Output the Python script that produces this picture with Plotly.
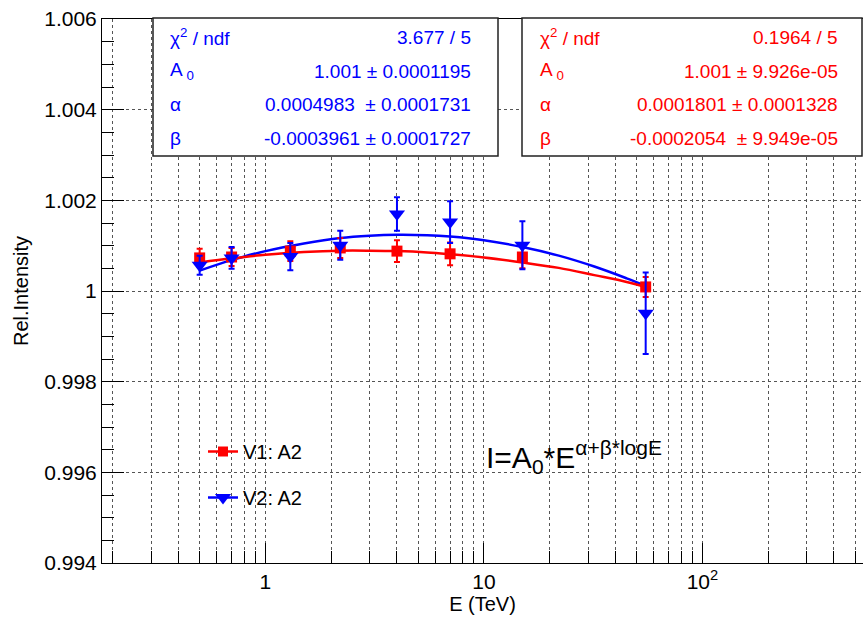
import plotly.graph_objects as go

# ---------------- data ----------------
energy = [0.5, 0.7, 1.3, 2.2, 4, 7, 15, 55]
v1_val = [1.00073, 1.00075, 1.00088, 1.00095, 1.00088, 1.00082, 1.00075, 1.00009]
v1_err = [0.00020, 0.00020, 0.00022, 0.00022, 0.00024, 0.00025, 0.00025, 0.00022]
v2_val = [1.00057, 1.00073, 1.00076, 1.00101, 1.00170, 1.00152, 1.00101, 0.99951]
v2_err = [0.00021, 0.00024, 0.00030, 0.00032, 0.00037, 0.00046, 0.00053, 0.00090]

fit_energy = [0.5, 0.7, 1, 1.5, 2.2, 3, 4, 5.5, 7, 10, 15, 22, 32, 45, 56]
v1_fit = [1.00063, 1.00072, 1.00080, 1.00086, 1.00089, 1.00089, 1.00088, 1.00085,
          1.00081, 1.00074, 1.00063, 1.00051, 1.00035, 1.00020, 1.00008]
v2_fit = [1.00045, 1.00068, 1.00088, 1.00105, 1.00117, 1.00122, 1.00124, 1.00123,
          1.00120, 1.00112, 1.00097, 1.00078, 1.00054, 1.00028, 1.00010]

series_names = ["V1: A2", "V2: A2"]

x_major = [1, 10, 100]
x_major_text = ["1", "10", "10<sup>2</sup>"]
x_minor = [0.2, 0.3, 0.4, 0.5, 0.6, 0.7, 0.8, 0.9,
           2, 3, 4, 5, 6, 7, 8, 9,
           20, 30, 40, 50, 60, 70, 80, 90,
           200, 300, 400, 500]
y_major = [0.994, 0.996, 0.998, 1.0, 1.002, 1.004, 1.006]
y_major_text = ["0.994", "0.996", "0.998", "1", "1.002", "1.004", "1.006"]

stat_labels = ["χ<sup>2</sup> / ndf", "A<sub> 0</sub>", "α", "β"]
v2_stats = ["3.677 / 5", "1.001 ± 0.0001195", "0.0004983  ± 0.0001731", "-0.0003961 ± 0.0001727"]
v1_stats = ["0.1964 / 5", "1.001 ± 9.926e-05", "0.0001801 ± 0.0001328", "-0.0002054  ± 9.949e-05"]

formula_text = "I=A<sub>0</sub>*E<sup>α+β*logE</sup>"

# ---------------- style ----------------
RED = "#ff0000"
BLUE = "#0000ff"
FONT = "Liberation Sans, Arial, sans-serif"
W, H = 863, 622
L, R, T, B = 102, 0, 19, 59
PW, PH = W - L - R, H - T - B


def px(x):
    return (x - L) / PW


def py(y):
    return (H - B - y) / PH


fig = go.Figure()

# fit curves
fig.add_trace(go.Scatter(x=fit_energy, y=v2_fit, mode="lines", line=dict(color=BLUE, width=2.5, shape="spline"),
                         showlegend=False, hoverinfo="skip"))
fig.add_trace(go.Scatter(x=fit_energy, y=v1_fit, mode="lines", line=dict(color=RED, width=2.5, shape="spline"),
                         showlegend=False, hoverinfo="skip"))
# data points
fig.add_trace(go.Scatter(x=energy, y=v1_val, mode="markers",
                         marker=dict(symbol="square", size=11, color=RED),
                         error_y=dict(type="data", array=v1_err, color=RED, thickness=2, width=3),
                         showlegend=False))
fig.add_trace(go.Scatter(x=energy, y=v2_val, mode="markers",
                         marker=dict(symbol="triangle-down", size=14, color=BLUE),
                         error_y=dict(type="data", array=v2_err, color=BLUE, thickness=2, width=3),
                         showlegend=False))
# legend entries
fig.add_trace(go.Scatter(x=[None], y=[None], mode="lines+markers", name=series_names[0],
                         line=dict(color=RED, width=2.5), marker=dict(symbol="square", size=10, color=RED),
                         legendgroup="a"))
fig.add_trace(go.Scatter(x=[None], y=[None], mode="lines+markers", name=series_names[1],
                         line=dict(color=BLUE, width=2.5), marker=dict(symbol="triangle-down", size=14, color=BLUE),
                         legendgroup="b"))

shapes = []
# legend white background
shapes.append(dict(type="rect", xref="paper", yref="paper", x0=px(200), x1=px(368), y0=py(517), y1=py(427),
                   fillcolor="white", line=dict(width=0), layer="between"))
# stat boxes
for x0, x1 in [(153, 498), (522, 862)]:
    shapes.append(dict(type="rect", xref="paper", yref="paper", x0=px(x0), x1=px(x1), y0=py(156), y1=py(18),
                       fillcolor="white", line=dict(color="#222222", width=1.5), layer="above"))

annotations = []
row_y = [37, 71, 104, 138]
for (lx, rx, vals, col) in [(168, 473, v2_stats, BLUE), (538, 840, v1_stats, RED)]:
    for lab, val, yy in zip(stat_labels, vals, row_y):
        annotations.append(dict(text=lab, x=px(lx), y=py(yy), xref="paper", yref="paper", xanchor="left",
                                yanchor="middle", showarrow=False, font=dict(size=19, color=col, family=FONT)))
        annotations.append(dict(text=val, x=px(rx), y=py(yy), xref="paper", yref="paper", xanchor="right",
                                yanchor="middle", showarrow=False, font=dict(size=19, color=col, family=FONT)))
annotations.append(dict(text=formula_text, x=px(484), y=py(457), xref="paper", yref="paper", xanchor="left",
                        yanchor="middle", showarrow=False, font=dict(size=30, color="black", family=FONT)))

grid = dict(gridcolor="#555555", griddash="dot", gridwidth=1)

fig.update_layout(
    width=W, height=H,
    margin=dict(l=L, r=R, t=T, b=B),
    paper_bgcolor="white", plot_bgcolor="white",
    font=dict(family=FONT, color="black", size=21),
    shapes=shapes, annotations=annotations,
    legend=dict(x=px(203), y=py(432), xanchor="left", yanchor="top", bgcolor="rgba(0,0,0,0)",
                font=dict(size=20, family=FONT), tracegroupgap=17, traceorder="grouped", itemwidth=30),
    xaxis=dict(type="log", range=[-0.748, 2.735], tickmode="array", tickvals=x_major, ticktext=x_major_text,
               ticks="inside", ticklen=20, tickcolor="black", showline=True, linecolor="black", linewidth=1,
               mirror=True, showgrid=True, **grid, zeroline=False,
               tickfont=dict(size=21),
               title=dict(text="E (TeV)", font=dict(size=20), standoff=4),
               minor=dict(tickmode="array", tickvals=x_minor, ticks="inside", ticklen=12, tickcolor="black",
                          showgrid=True, **grid)),
    yaxis=dict(range=[0.994, 1.006], tickmode="array", tickvals=y_major, ticktext=y_major_text,
               ticks="inside", ticklen=22, tickcolor="black", showline=True, linecolor="black", linewidth=1,
               mirror=True, showgrid=True, **grid, zeroline=False,
               tickfont=dict(size=21),
               title=dict(text="Rel.Intensity", font=dict(size=20), standoff=10),
               minor=dict(dtick=0.0005, tick0=0.994, ticks="inside", ticklen=12, tickcolor="black",
                          showgrid=False)),
)

fig.write_html("out.html")
